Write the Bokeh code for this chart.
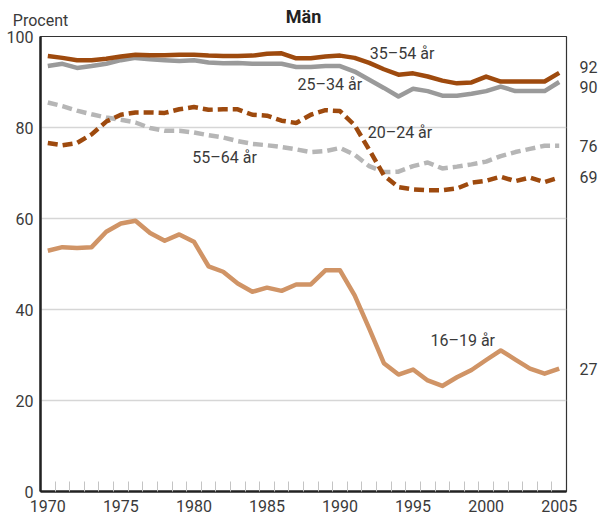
from bokeh.plotting import figure
from bokeh.models import FixedTicker, Label, Range1d, LinearAxis
from bokeh.embed import file_html
from bokeh.resources import INLINE

years = list(range(1970, 2006))
age_16_19 = [52.9, 53.7, 53.5, 53.7, 57.1, 58.9, 59.5, 56.8, 55.1, 56.5,
             54.9, 49.5, 48.3, 45.7, 43.9, 44.8, 44.1, 45.5, 45.5, 48.6,
             48.6, 43.1, 35.8, 28.2, 25.7, 26.8, 24.4, 23.2, 25.1, 26.7,
             28.9, 31.0, 29.0, 27.0, 25.9, 27.0]
age_20_24 = [76.6, 76.1, 76.6, 78.5, 81.3, 82.8, 83.3, 83.3, 83.2, 84.0,
             84.5, 83.9, 84.0, 84.0, 82.8, 82.6, 81.5, 81.0, 82.8, 83.8,
             83.6, 80.5, 75.1, 69.5, 66.9, 66.4, 66.2, 66.2, 66.6, 67.9,
             68.3, 69.2, 68.2, 69.0, 68.0, 69.0]
age_25_34 = [93.5, 94.0, 93.1, 93.5, 94.0, 94.8, 95.3, 95.0, 94.8, 94.6,
             94.8, 94.3, 94.1, 94.2, 94.0, 94.0, 94.0, 93.3, 93.3, 93.5,
             93.5, 92.3, 90.5, 88.7, 86.8, 88.5, 88.0, 87.0, 87.0, 87.4,
             88.0, 89.0, 88.0, 88.0, 88.0, 90.0]
age_35_54 = [95.7, 95.3, 94.8, 94.8, 95.1, 95.6, 96.0, 95.9, 95.9, 96.0,
             96.0, 95.8, 95.7, 95.7, 95.8, 96.2, 96.3, 95.2, 95.2, 95.6,
             95.8, 95.3, 94.2, 92.8, 91.6, 91.9, 91.2, 90.3, 89.7, 89.9,
             91.2, 90.1, 90.1, 90.1, 90.1, 92.0]
age_55_64 = [85.5, 84.7, 83.7, 82.9, 82.2, 81.7, 81.1, 79.9, 79.3, 79.3,
             78.9, 78.3, 77.8, 77.0, 76.4, 76.1, 75.7, 75.2, 74.6, 74.8,
             75.5, 74.0, 71.5, 70.2, 70.3, 71.5, 72.3, 71.0, 71.4, 71.9,
             72.5, 73.7, 74.6, 75.3, 76.0, 76.0]

x_ticks = [1970, 1975, 1980, 1985, 1990, 1995, 2000, 2005]
y_ticks = [0, 20, 40, 60, 80, 100]
title_text = "Män"
y_unit = "Procent"
series_names = ["16–19 år", "20–24 år", "25–34 år", "35–54 år", "55–64 år"]

FONT = "Roboto"
TXT = "#3a3a3a"
RUST = "#9e4a0e"
GREY = "#9a9a9a"
LGREY = "#b6b6b6"
TAN = "#d09466"

X0, X1 = 1969.5, 2005.5
p = figure(width=600, height=518, output_backend="svg", toolbar_location=None,
           x_range=Range1d(X0, X1), y_range=Range1d(0, 100),
           min_border_left=40, min_border_right=28, min_border_top=36,
           min_border_bottom=27)
p.background_fill_color = "white"
p.border_fill_color = "white"
p.outline_line_color = "#333333"
p.outline_line_width = 1.2
p.title.text = ""
p.title.visible = False

p.xgrid.visible = False
p.ygrid.ticker = FixedTicker(ticks=[20, 40, 60, 80])
p.ygrid.grid_line_color = "#d6d6d6"
p.ygrid.grid_line_width = 1.5

xa = p.xaxis[0]
xa.ticker = FixedTicker(ticks=x_ticks, minor_ticks=[y + 0.5 for y in range(1970, 2005)])
xa.major_tick_in = 0
xa.major_tick_out = 0
xa.minor_tick_in = 10
xa.minor_tick_out = 0
xa.minor_tick_line_color = "#c4c4c4"
xa.minor_tick_line_width = 1
xa.axis_line_color = "#222222"
xa.axis_line_width = 2.5
xa.major_label_standoff = 8
xa.major_label_text_font = FONT
xa.major_label_text_font_size = "16px"
xa.major_label_text_color = TXT

ya = p.yaxis[0]
ya.ticker = FixedTicker(ticks=y_ticks)
ya.major_tick_in = 0
ya.major_tick_out = 0
ya.minor_tick_line_color = None
ya.axis_line_color = "#222222"
ya.axis_line_width = 2.5
ya.major_label_standoff = 7
ya.major_label_text_font = FONT
ya.major_label_text_font_size = "16px"
ya.major_label_text_color = TXT

lw = 4.5
p.line(years, age_16_19, line_color=TAN, line_width=lw, line_join="round")
p.line(years, age_55_64, line_color=LGREY, line_width=lw, line_dash="10 5")
p.line(years, age_20_24, line_color=RUST, line_width=lw, line_dash="10 5")
p.line(years, age_25_34, line_color=GREY, line_width=lw, line_join="round")
p.line(years, age_35_54, line_color=RUST, line_width=lw, line_join="round")

# series labels inside the chart
label_pos = {"35–54 år": (1994.25, 96.3), "25–34 år": (1989.3, 89.4),
             "20–24 år": (1994.1, 79.0), "55–64 år": (1982.1, 73.3),
             "16–19 år": (1998.4, 33.2)}
for name in series_names:
    lx, ly = label_pos[name]
    p.add_layout(Label(x=lx, y=ly, text=name, text_font=FONT, text_font_size="16px",
                       text_color=TXT, text_align="center", text_baseline="middle"))

# end values on the right, as a right-hand axis
end_vals = [age_35_54[-1], age_25_34[-1], age_55_64[-1], age_20_24[-1], age_16_19[-1]]
end_pos = [93.2, 89.0, 76.0, 69.1, 27.0]
ra = LinearAxis(ticker=FixedTicker(ticks=end_pos),
                major_label_overrides={pos: str(int(round(v))) for pos, v in zip(end_pos, end_vals)})
ra.axis_line_color = None
ra.major_tick_line_color = None
ra.minor_tick_line_color = None
ra.major_label_standoff = 7
ra.major_label_text_font = FONT
ra.major_label_text_font_size = "16px"
ra.major_label_text_color = TXT
p.add_layout(ra, "right")

# top axis: unit text at the left corner, chart title centred
ta = LinearAxis(ticker=FixedTicker(ticks=[X0]), major_label_overrides={X0: y_unit})
ta.axis_line_color = None
ta.major_tick_line_color = None
ta.minor_tick_line_color = None
ta.major_tick_out = 0
ta.major_tick_in = 0
ta.major_label_standoff = 7
ta.major_label_text_font = FONT
ta.major_label_text_font_size = "16px"
ta.major_label_text_color = TXT
ta.axis_label = title_text
ta.axis_label_text_font = FONT
ta.axis_label_text_font_size = "18px"
ta.axis_label_text_font_style = "bold"
ta.axis_label_text_color = "#222222"
ta.axis_label_standoff = -19
p.add_layout(ta, "above")

open("out.html", "w").write(file_html(p, INLINE))
